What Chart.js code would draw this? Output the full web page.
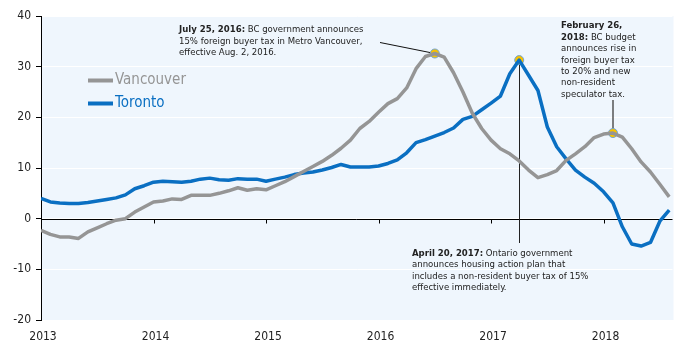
<!DOCTYPE html>
<html>
<head>
<meta charset="utf-8">
<script src="https://cdn.jsdelivr.net/npm/chart.js@4.4.1/dist/chart.umd.min.js"></script>
<style>
  html, body { margin: 0; padding: 0; background: #fff; }
  #chart { display: block; }
</style>
</head>
<body>
<canvas id="chart" width="678" height="341"></canvas>
<script>
// monthly, Jan 2013 .. Aug 2018 (index 0 = Jan 2013)
const years = ['2013', '2014', '2015', '2016', '2017', '2018'];
const vancouver = [-2.3, -3.1, -3.6, -3.6, -3.9, -2.6, -1.8, -1.0, -0.3, 0.0,
    1.3, 2.3, 3.3, 3.5, 3.9, 3.8, 4.6, 4.6, 4.6, 5.0,
    5.5, 6.1, 5.6, 5.9, 5.7, 6.5, 7.3, 8.3, 9.3, 10.3,
    11.3, 12.5, 13.9, 15.5, 17.8, 19.2, 21.0, 22.7, 23.7, 25.8,
    29.6, 32.0, 32.6, 31.9, 28.8, 25.0, 20.8, 17.8, 15.5, 13.8,
    12.8, 11.4, 9.6, 8.1, 8.7, 9.5, 11.5, 12.8, 14.2, 16.0,
    16.7, 16.9, 16.1, 13.8, 11.2, 9.2, 6.8, 4.3];
const toronto = [4.0, 3.3, 3.1, 3.0, 3.0, 3.2, 3.5, 3.8, 4.1, 4.7,
    5.9, 6.5, 7.2, 7.4, 7.3, 7.2, 7.4, 7.8, 8.0, 7.7,
    7.6, 7.9, 7.8, 7.8, 7.4, 7.8, 8.2, 8.7, 9.0, 9.2,
    9.6, 10.1, 10.7, 10.2, 10.2, 10.2, 10.4, 10.9, 11.6, 13.0,
    15.0, 15.6, 16.3, 17.0, 17.9, 19.6, 20.2, 21.5, 22.8, 24.2,
    28.6, 31.3, 28.3, 25.3, 18.1, 14.2, 11.8, 9.6, 8.2, 7.0,
    5.3, 3.1, -1.6, -5.0, -5.4, -4.7, -0.5, 1.7];
// event markers: [series, month index]
const events = [['vancouver', 42], ['toronto', 51], ['vancouver', 61]];

const GRAY = '#959595';
const BLUE = '#0a6fc2';
const FONT = "'DejaVu Sans Condensed', 'DejaVu Sans', sans-serif";
const series = { vancouver: vancouver, toronto: toronto };

const toPoints = arr => arr.map((v, i) => ({ x: i, y: v }));
const eventPoints = events.map(e => ({ x: e[1], y: series[e[0]][e[1]] }));

const decor = {
    id: 'decor',
    beforeDraw(chart) {
        const { ctx, chartArea: a } = chart;
        ctx.save();
        ctx.fillStyle = '#eff6fd';
        ctx.fillRect(a.left, a.top, a.right - a.left + 1, a.bottom - a.top);
        ctx.restore();
    },
    beforeDatasetsDraw(chart) {
        const { ctx, chartArea: a, scales: { x, y } } = chart;
        const y0 = Math.round(y.getPixelForValue(0)) + 0.5;
        ctx.save();
        ctx.strokeStyle = '#000';
        ctx.lineWidth = 1;
        ctx.beginPath();
        ctx.moveTo(a.left, y0);
        ctx.lineTo(a.right, y0);
        for (let m = 12; m < 68; m += 12) {
            const px = Math.round(x.getPixelForValue(m)) + 0.5;
            ctx.moveTo(px, y0);
            ctx.lineTo(px, y0 + 4);
        }
        ctx.stroke();
        ctx.restore();
    },
    beforeDatasetDraw(chart, args) {
        if (args.index !== 2) return;
        const { ctx, scales: { x, y } } = chart;
        const p = eventPoints.map(pt => [x.getPixelForValue(pt.x), y.getPixelForValue(pt.y)]);
        ctx.save();
        ctx.lineWidth = 1;
        ctx.strokeStyle = '#111';
        ctx.beginPath();
        ctx.moveTo(380, 42.5);
        ctx.lineTo(p[0][0], p[0][1]);
        ctx.stroke();
        ctx.strokeStyle = '#222';
        ctx.beginPath();
        ctx.moveTo(Math.round(p[1][0]) + 0.5, p[1][1]);
        ctx.lineTo(Math.round(p[1][0]) + 0.5, 243);
        ctx.stroke();
        ctx.strokeStyle = '#555';
        ctx.lineWidth = 1.5;
        ctx.beginPath();
        ctx.moveTo(Math.round(p[2][0]), 100);
        ctx.lineTo(Math.round(p[2][0]), p[2][1]);
        ctx.stroke();
        ctx.restore();
    },
    afterDraw(chart) {
        const ctx = chart.ctx;
        ctx.save();
        ctx.textBaseline = 'middle';
        ctx.textAlign = 'left';

        // legend
        const legend = [['Vancouver', GRAY, 80.5], ['Toronto', BLUE, 103.5]];
        legend.forEach(([name, col, ly]) => {
            ctx.strokeStyle = col;
            ctx.lineWidth = 4;
            ctx.beginPath();
            ctx.moveTo(88, ly);
            ctx.lineTo(113, ly);
            ctx.stroke();
            ctx.fillStyle = col;
            ctx.font = '15px ' + FONT;
            ctx.fillText(name, 115, ly);
        });

        // annotation texts: each line is [bold part, regular part]
        const notes = [
            [179, 30, 11.5, [
                ['July 25, 2016:', ' BC government announces'],
                ['', '15% foreign buyer tax in Metro Vancouver,'],
                ['', 'effective Aug. 2, 2016.']]],
            [412, 253.5, 11.5, [
                ['April 20, 2017:', ' Ontario government'],
                ['', 'announces housing action plan that'],
                ['', 'includes a non-resident buyer tax of 15%'],
                ['', 'effective immediately.']]],
            [561, 26, 11.4, [
                ['February 26,', ''],
                ['2018:', ' BC budget'],
                ['', 'announces rise in'],
                ['', 'foreign buyer tax'],
                ['', 'to 20% and new'],
                ['', 'non-resident'],
                ['', 'speculator tax.']]]
        ];
        ctx.fillStyle = '#222';
        notes.forEach(([nx, ny, lh, lines]) => {
            lines.forEach(([b, r], k) => {
                let cx = nx;
                const cy = ny + k * lh;
                if (b) {
                    ctx.font = 'bold 9.5px ' + FONT;
                    ctx.fillText(b, cx, cy);
                    cx += ctx.measureText(b).width;
                }
                ctx.font = '9.5px ' + FONT;
                ctx.fillText(r, cx, cy);
            });
        });
        ctx.restore();
    }
};

new Chart(document.getElementById('chart'), {
    type: 'line',
    data: {
        datasets: [{
            label: 'Vancouver',
            data: toPoints(vancouver),
            borderColor: GRAY,
            borderWidth: 3.5
        }, {
            label: 'Toronto',
            data: toPoints(toronto),
            borderColor: BLUE,
            borderWidth: 3.5
        }, {
            label: 'events',
            data: eventPoints,
            showLine: false,
            pointRadius: 4.5,
            pointBackgroundColor: '#f7c100',
            pointBorderColor: '#6fa3d8',
            pointBorderWidth: 1
        }]
    },
    plugins: [decor],
    options: {
        responsive: false,
        animation: false,
        layout: { padding: { top: 16, right: 4, left: 0, bottom: 0 } },
        elements: {
            line: { tension: 0, borderJoinStyle: 'round', borderCapStyle: 'butt' },
            point: { radius: 0 }
        },
        plugins: { legend: { display: false }, tooltip: { enabled: false } },
        scales: {
            x: {
                type: 'linear',
                min: 0,
                max: 67.35,
                grid: { display: false },
                border: { display: false },
                ticks: {
                    stepSize: 12,
                    autoSkip: false,
                    maxRotation: 0,
                    labelOffset: 2,
                    padding: 2,
                    color: '#222',
                    font: { family: FONT, size: 12 },
                    callback: v => (v % 12 === 0 ? years[v / 12] : '')
                },
                afterFit: s => { s.height = 21; }
            },
            y: {
                min: -20,
                max: 40,
                grid: { color: '#ffffff', lineWidth: 1, tickColor: '#000', tickLength: 5 },
                border: { color: '#000', width: 1 },
                ticks: {
                    stepSize: 10,
                    padding: 5,
                    color: '#222',
                    font: { family: FONT, size: 12 }
                },
                afterFit: s => { s.width = 41; }
            }
        }
    }
});
</script>
</body>
</html>
